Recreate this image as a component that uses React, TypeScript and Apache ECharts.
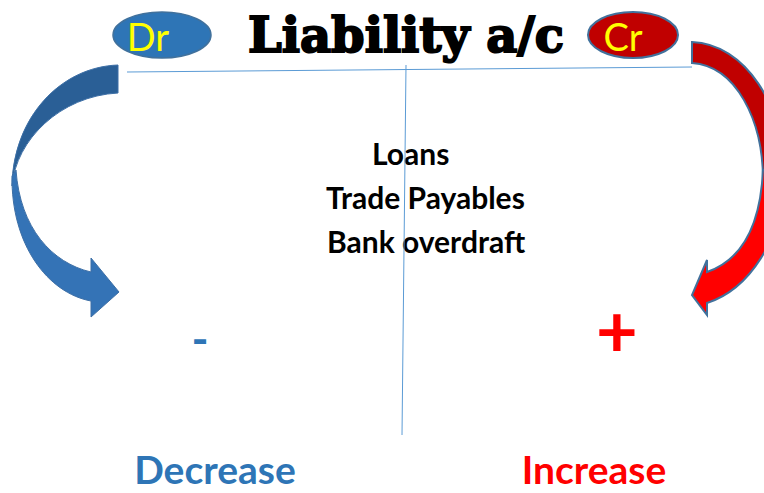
import React, { useEffect, useRef } from "react";
import * as echarts from "echarts";

const TITLE = "Liability a/c";
const SIDE_LABELS = ["Dr", "Cr"];
const LIABILITY_ITEMS = ["Loans", "Trade Payables", "Bank overdraft"];
const SIDE_SIGNS = ["-", "+"];
const SIDE_EFFECTS = ["Decrease", "Increase"];

const BLUE = "#2E75B6";
const RED = "#FF0000";

const LEFT_BACK = "M118 65 C60 67 13 118 12 186 C16 140 60 96 118 93 Z";
const LEFT_FRONT =
  "M12 176 C11 245 48 293 91 301 L91 317 L119 292 L91 258 L91 272 C52 263 20 228 16 170 Z";
const RIGHT_BACK = "M692 42 C745 44 785 105 785 180 L763 180 C763 120 736 66 692 63 Z";
const RIGHT_FRONT =
  "M785 170 C784 242 747 290 707 303 L707 315 L692 295 L707 260 L707 272 C736 262 760 235 763 170 Z";

let registered = false;
function registerShapes() {
  if (registered) return;
  registered = true;
  echarts.graphic.registerShape("leftBack", echarts.graphic.extendPath(LEFT_BACK, {}));
  echarts.graphic.registerShape("leftFront", echarts.graphic.extendPath(LEFT_FRONT, {}));
  echarts.graphic.registerShape("rightBack", echarts.graphic.extendPath(RIGHT_BACK, {}));
  echarts.graphic.registerShape("rightFront", echarts.graphic.extendPath(RIGHT_FRONT, {}));
}

export default function App() {
  const ref = useRef<HTMLDivElement>(null);
  useEffect(() => {
    if (!ref.current) return;
    registerShapes();
    const chart = echarts.init(ref.current, undefined, { renderer: "svg" });
    const itemPos = [
      { x: 372, y: 153 },
      { x: 326, y: 197 },
      { x: 327, y: 241 },
    ];
    const elements: any[] = [
      // arrows
      { type: "leftBack", x: 0, y: 0, z: 1, style: { fill: "#2A5F96", stroke: "#3D6FA6", lineWidth: 1 } },
      { type: "leftFront", x: 0, y: 0, z: 2, style: { fill: "#3473B6", stroke: "#3D6FA6", lineWidth: 1 } },
      { type: "rightBack", x: 0, y: 0, z: 1, style: { fill: "#C00000", stroke: "#41719C", lineWidth: 2 } },
      { type: "rightFront", x: 0, y: 0, z: 2, style: { fill: "#FF0000", stroke: "#41719C", lineWidth: 2 } },
      // ellipses
      { type: "ellipse", z: 3, shape: { cx: 162, cy: 35, rx: 49, ry: 23 }, style: { fill: BLUE, stroke: "#41719C", lineWidth: 1.5 } },
      { type: "ellipse", z: 3, shape: { cx: 633, cy: 35, rx: 45, ry: 23 }, style: { fill: "#C00000", stroke: "#41719C", lineWidth: 2 } },
      {
        type: "text", z: 4,
        style: { text: SIDE_LABELS[0], x: 148, y: 36, fill: "#FFFF00", font: "38px Lato", textAlign: "center", textVerticalAlign: "middle" },
      },
      {
        type: "text", z: 4,
        style: { text: SIDE_LABELS[1], x: 623, y: 36, fill: "#FFFF00", font: "38px Lato", textAlign: "center", textVerticalAlign: "middle" },
      },
      {
        type: "text", z: 4,
        style: { text: TITLE, x: 406, y: 35, fill: "#000", font: "bold 48px 'DejaVu Serif'", textAlign: "center", textVerticalAlign: "middle", stroke: "#000", lineWidth: 2 },
      },
      ...LIABILITY_ITEMS.map((t, i) => ({
        type: "text", z: 4,
        style: { text: t, x: itemPos[i].x, y: itemPos[i].y, fill: "#000", font: "bold 30px Lato", textAlign: "left", textVerticalAlign: "middle" },
      })),
      {
        type: "text", z: 4,
        style: { text: SIDE_SIGNS[0], x: 200, y: 338, fill: BLUE, font: "bold 46px Lato", textAlign: "center", textVerticalAlign: "middle" },
      },
      {
        type: "text", z: 4,
        style: { text: SIDE_SIGNS[1], x: 617, y: 329, fill: RED, font: "bold 72px Lato", textAlign: "center", textVerticalAlign: "middle" },
      },
      {
        type: "text", z: 4,
        style: { text: SIDE_EFFECTS[0], x: 215, y: 469, fill: BLUE, font: "bold 39px Lato", lineHeight: 30, textAlign: "center", textVerticalAlign: "middle" },
      },
      {
        type: "text", z: 4,
        style: { text: SIDE_EFFECTS[1], x: 594, y: 469, fill: RED, font: "bold 39px Lato", lineHeight: 30, textAlign: "center", textVerticalAlign: "middle" },
      },
      // T-account lines
      { type: "line", z: 5, shape: { x1: 127, y1: 72, x2: 692, y2: 67 }, style: { stroke: "#5B9BD5", lineWidth: 1 } },
      { type: "line", z: 5, shape: { x1: 406, y1: 65, x2: 402, y2: 435 }, style: { stroke: "#5B9BD5", lineWidth: 1 } },
    ];
    chart.setOption({ animation: false, graphic: { elements } });
    return () => chart.dispose();
  }, []);
  return (
    <div
      ref={ref}
      style={{ position: "fixed", left: 0, top: 0, width: 764, height: 493, background: "#fff" }}
    />
  );
}
